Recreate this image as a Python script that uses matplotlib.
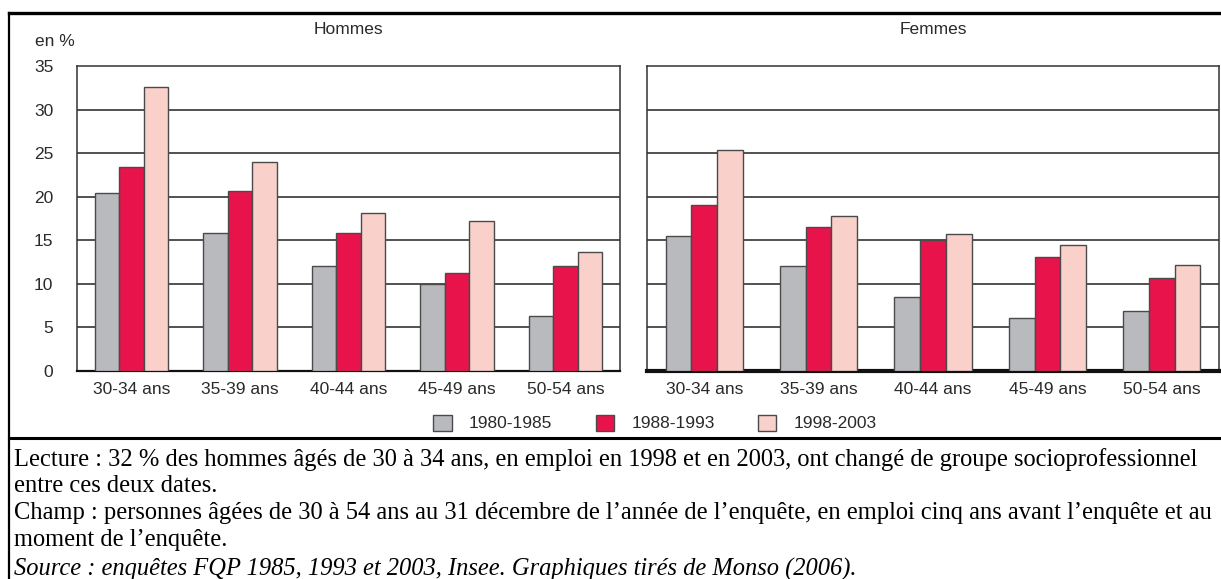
import matplotlib
matplotlib.use('Agg')
import matplotlib.pyplot as plt
from matplotlib.lines import Line2D
from matplotlib.patches import Patch
import numpy as np

W, H = 1221, 579

age_groups = ['30-34 ans', '35-39 ans', '40-44 ans', '45-49 ans', '50-54 ans']
periods = ['1980-1985', '1988-1993', '1998-2003']

hommes_1980 = [20.4, 15.8, 12.0, 10.0, 6.3]
hommes_1988 = [23.4, 20.6, 15.8, 11.3, 12.1]
hommes_1998 = [32.6, 24.0, 18.1, 17.2, 13.6]

femmes_1980 = [15.5, 12.1, 8.5, 6.1, 6.9]
femmes_1988 = [19.1, 16.5, 15.0, 13.1, 10.7]
femmes_1998 = [25.4, 17.8, 15.7, 14.5, 12.2]

yticks = [0, 5, 10, 15, 20, 25, 30, 35]

notes = [
    "Lecture : 32 % des hommes âgés de 30 à 34 ans, en emploi en 1998 et en 2003, ont changé de groupe socioprofessionnel",
    "entre ces deux dates.",
    "Champ : personnes âgées de 30 à 54 ans au 31 décembre de l\u2019année de l\u2019enquête, en emploi cinq ans avant l\u2019enquête et au",
    "moment de l\u2019enquête.",
]
source = "Source : enquêtes FQP 1985, 1993 et 2003, Insee. Graphiques tirés de Monso (2006)."

colors = ['#b9babe', '#e8134b', '#f9d0ca']
edge = '#4a4a4a'
txtcol = '#2a2a2a'
sans = ['Liberation Sans', 'DejaVu Sans']
serif = ['Liberation Serif', 'DejaVu Serif']
fsz = 12.5


def rect(x0, y0, x1, y1):
    # pixel box (from top-left) -> figure fraction
    return [x0 / W, 1 - y1 / H, (x1 - x0) / W, (y1 - y0) / H]


def fy(y):
    return 1 - y / H


fig = plt.figure(figsize=(W / 100, H / 100), dpi=100)

# outer frame lines
fig.add_artist(Line2D([9 / W, 1], [fy(13), fy(13)], color='black', lw=2.4))
fig.add_artist(Line2D([9 / W, 9 / W], [0, fy(13)], color='black', lw=1.6))
fig.add_artist(Line2D([9 / W, 1], [fy(438), fy(438)], color='black', lw=2.2))

ax_h = fig.add_axes(rect(77, 66, 620, 371))
ax_f = fig.add_axes(rect(647, 66, 1219, 371))

x = np.arange(len(age_groups))
bw = 0.225
for ax, series in [(ax_h, [hommes_1980, hommes_1988, hommes_1998]),
                   (ax_f, [femmes_1980, femmes_1988, femmes_1998])]:
    for i, vals in enumerate(series):
        ax.bar(x + (i - 1) * bw, vals, width=bw, color=colors[i],
               edgecolor=edge, linewidth=1.0, zorder=3)
    ax.set_xlim(-0.5, len(age_groups) - 0.5)
    ax.set_ylim(0, 35)
    ax.set_yticks(yticks)
    ax.set_xticks(x)
    ax.set_xticklabels(age_groups, family=sans, fontsize=fsz, color=txtcol)
    ax.tick_params(length=0)
    ax.tick_params(axis='x', pad=8)
    for t in yticks[1:-1]:
        ax.axhline(t, color='#222222', lw=1.1, zorder=1)
    for s in ax.spines.values():
        s.set_color('#333333')
        s.set_linewidth(1.1)
    ax.spines['bottom'].set_color('#111111')

ax_h.set_yticklabels([str(t) for t in yticks], family=sans, fontsize=fsz, color=txtcol)
ax_h.tick_params(axis='y', pad=17)
ax_f.set_yticklabels([])
ax_h.spines['bottom'].set_linewidth(1.6)
ax_f.spines['bottom'].set_linewidth(3.0)

fig.text(348 / W, fy(29), 'Hommes', family=sans, fontsize=fsz, ha='center', va='center', color=txtcol)
fig.text(933 / W, fy(29), 'Femmes', family=sans, fontsize=fsz, ha='center', va='center', color=txtcol)
fig.text(35 / W, fy(42), 'en %', family=sans, fontsize=fsz, ha='left', va='center', color=txtcol)

handles = [Patch(facecolor=c, edgecolor=edge, linewidth=1.0) for c in colors]
leg = fig.legend(handles, periods, loc='center', bbox_to_anchor=(655 / W, fy(423)),
                 ncol=3, frameon=False, handlelength=1.05, handleheight=1.05,
                 handletextpad=1.0, columnspacing=2.5, borderpad=0, borderaxespad=0,
                 prop={'family': sans, 'size': fsz})
for t in leg.get_texts():
    t.set_color(txtcol)

# notes, fitted to the width of the frame
renderer = fig.canvas.get_renderer()
widths = []
for line in (notes[0], notes[2]):
    probe = fig.text(14 / W, 0.5, line, family=serif, fontsize=14)
    widths.append(probe.get_window_extent(renderer).width)
    probe.remove()
fs = 14 * (1203 / max(widths))

ys = [460, 486, 513, 540]
for txt, y in zip(notes, ys):
    fig.text(14 / W, fy(y), txt, family=serif, fontsize=fs, ha='left', va='center')
fig.text(14 / W, fy(569), source, family=serif, fontsize=fs, style='italic',
         ha='left', va='center')

fig.savefig('out.png', dpi=100)
